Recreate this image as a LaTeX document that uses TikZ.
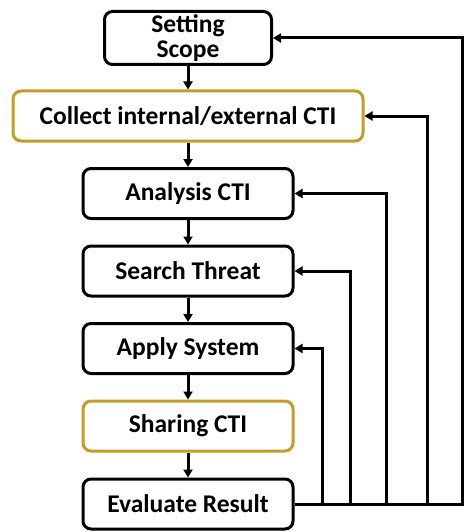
\documentclass[tikz,border=0pt]{standalone}
\usepackage{fontspec}
\setmainfont{Carlito}
\usetikzlibrary{arrows.meta,positioning}
\definecolor{gold}{RGB}{196,156,44}

\begin{document}
\begin{tikzpicture}[x=1pt,y=-1pt,line width=3pt,
  stepbox/.style={draw,rounded corners=8pt,minimum width=210pt,minimum height=50pt,
    align=center,font=\fontsize{25.5}{25}\selectfont\bfseries,inner sep=0pt},
  goldbox/.style={stepbox,draw=gold},
  flow/.style={-{Triangle[length=8pt,width=9pt]}},
  fb/.style={-{Triangle[length=8pt,width=9pt]},rounded corners=0pt}]
  \useasboundingbox (0,0) rectangle (465,532);
  \node[stepbox,minimum width=167pt,minimum height=53pt] (scope) at (188,38) {Setting\\Scope};
  \node[goldbox,minimum width=350pt] (collect) at (188,116) {Collect internal/external CTI};
  \node[stepbox] (analysis) at (188,193.5) {Analysis CTI};
  \node[stepbox] (search) at (188,271) {Search Threat};
  \node[stepbox] (apply) at (188,348.5) {Apply System};
  \node[goldbox] (sharing) at (188,426) {Sharing CTI};
  \node[stepbox] (eval) at (188,504) {Evaluate Result};
  % forward flow
  \draw[flow] (scope) -- (collect);
  \draw[flow] (collect) -- (analysis);
  \draw[flow] (analysis) -- (search);
  \draw[flow] (search) -- (apply);
  \draw[flow] (apply) -- (sharing);
  \draw[flow] (sharing) -- (eval);
  % feedback loops
  \draw[fb] (eval.east) -- ++(28,0) |- (apply.east);
  \draw[fb] (eval.east) -- ++(56,0) |- (search.east);
  \draw[fb] (eval.east) -- ++(92,0) |- (analysis.east);
  \draw[fb] (eval.east) -- ++(133,0) |- (collect.east);
  \draw[fb] (eval.east) -- ++(168,0) |- (scope.east);
\end{tikzpicture}
\end{document}
